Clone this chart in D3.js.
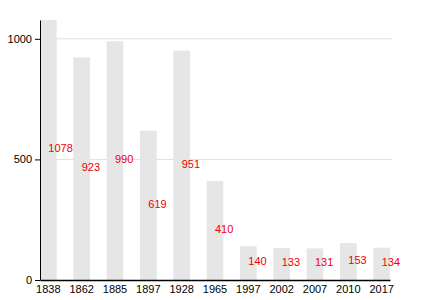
<!DOCTYPE html>
<html>
<head>
<meta charset="utf-8">
<script src="https://cdn.jsdelivr.net/npm/d3@7"></script>
<style>
  body { margin: 0; background: #fff; }
  text { font-family: "Liberation Sans", Arial, sans-serif; }
</style>
</head>
<body>
<div id="chart"></div>
<script>
const years = ['1838', '1862', '1885', '1897', '1928', '1965', '1997', '2002', '2007', '2010', '2017'];
const population = [1078, 923, 990, 619, 951, 410, 140, 133, 131, 153, 134];
const yTicks = [0, 500, 1000];

const width = 430, height = 300;
const margin = { top: 20, right: 40, bottom: 20, left: 40 };

const svg = d3.select('#chart').append('svg')
    .attr('width', width)
    .attr('height', height);

const x = d3.scaleBand()
    .domain(years)
    .range([margin.left, width - margin.right])
    .paddingInner(0.5)
    .paddingOuter(0);

const y = d3.scaleLinear()
    .domain([0, 1078])
    .range([height - margin.bottom, margin.top]);

// grid lines
svg.append('g')
    .selectAll('line')
    .data(yTicks.filter((d) => d > 0))
    .enter()
    .append('line')
    .attr('x1', margin.left)
    .attr('x2', width - margin.right + 2)
    .attr('y1', (d) => y(d))
    .attr('y2', (d) => y(d))
    .attr('stroke', '#e0e0e0')
    .attr('stroke-width', 1);

// bars
svg.append('g')
    .selectAll('rect')
    .data(population)
    .enter()
    .append('rect')
    .attr('x', (d, i) => x(years[i]))
    .attr('y', (d) => y(d))
    .attr('width', x.bandwidth())
    .attr('height', (d) => y(0) - y(d))
    .attr('fill', '#e6e6e6');

// value labels
svg.append('g')
    .selectAll('text')
    .data(population)
    .enter()
    .append('text')
    .attr('x', (d, i) => x(years[i]) + x.bandwidth() / 2)
    .attr('y', (d) => y(d / 2))
    .attr('dy', '.2em')
    .attr('font-size', '11px')
    .attr('fill', '#ee0000')
    .text((d) => d);

// y axis
const yAxis = svg.append('g')
    .attr('transform', `translate(${margin.left},0)`)
    .call(d3.axisLeft(y).tickValues(yTicks).tickFormat(d3.format('d')).tickSize(5).tickSizeOuter(0));
yAxis.select('.domain').attr('stroke', '#000');
yAxis.selectAll('text').attr('font-size', '11px').attr('font-family', 'Liberation Sans, Arial, sans-serif').attr('fill', '#000');

// x axis
const xAxis = svg.append('g')
    .attr('transform', `translate(0,${height - margin.bottom})`)
    .call(d3.axisBottom(x).tickSize(0).tickSizeOuter(0).tickPadding(5));
xAxis.select('.domain').attr('stroke', '#000').attr('stroke-width', 1.5);
xAxis.selectAll('text').attr('font-size', '11px').attr('font-family', 'Liberation Sans, Arial, sans-serif').attr('fill', '#000');
</script>
</body>
</html>
